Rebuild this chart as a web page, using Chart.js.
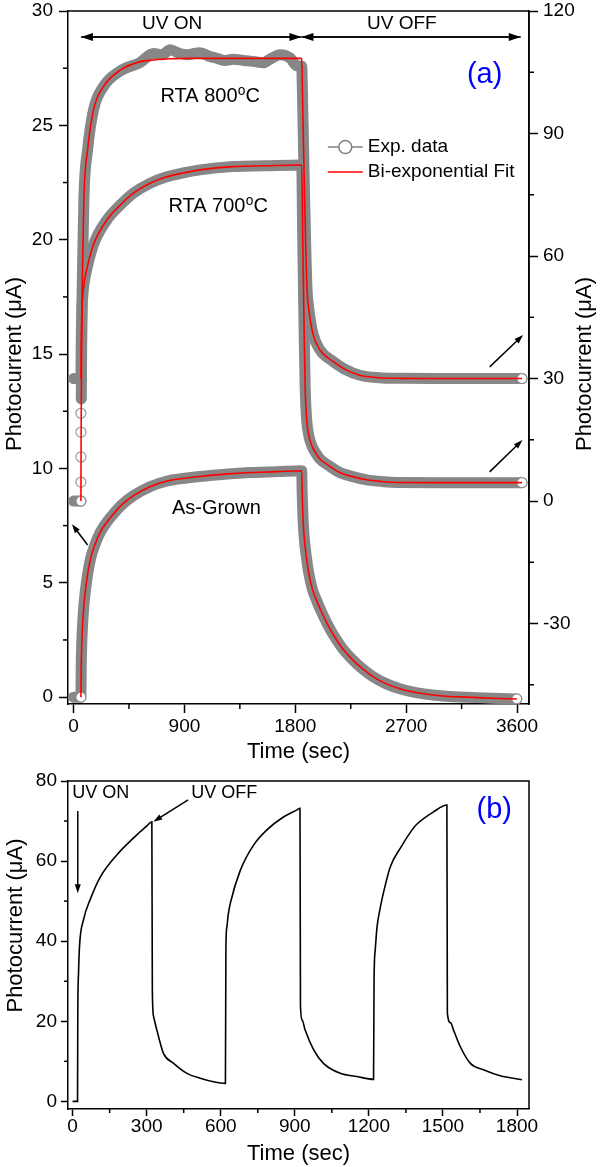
<!DOCTYPE html>
<html>
<head>
<meta charset="utf-8">
<script src="https://cdn.jsdelivr.net/npm/chart.js@4.4.1/dist/chart.umd.min.js"></script>
<style>
  body { margin: 0; background: #fff; }
  canvas { display: block; }
</style>
</head>
<body>
<canvas id="chartA" width="600" height="770"></canvas>
<canvas id="chartB" width="600" height="397"></canvas>
<script>
// ---- panel (a): rise / decay, time in sec ----
var grownT   = [0, 30, 60, 62, 66, 72, 81, 95, 115, 140, 176, 216, 270, 322, 400, 484, 620, 760, 1027, 1250,
                1433, 1650, 1852, 1856, 1862, 1872, 1888, 1910, 1940, 1975, 2015, 2060, 2106, 2180, 2268, 2350, 2430, 2540, 2649, 2780,
                2916, 3050, 3192, 3400, 3598];
var grownExp = [0, 0, 0, 1.2, 2.2, 3.0, 3.8, 4.6, 5.4, 6.1, 6.7, 7.2, 7.65, 8.0, 8.45, 8.8, 9.2, 9.45, 9.65, 9.76,
                9.82, 9.86, 9.9, 8.9, 7.9, 7.0, 6.2, 5.4, 4.7, 4.2, 3.7, 3.2, 2.75, 2.15, 1.62, 1.22, 0.9, 0.58, 0.37, 0.2,
                0.09, 0.03, 0.0, -0.05, -0.08];
var grownFit = [null, null, 0, 1.2, 2.2, 3.0, 3.8, 4.6, 5.4, 6.1, 6.7, 7.2, 7.65, 8.0, 8.45, 8.8, 9.2, 9.45, 9.65, 9.76,
                9.82, 9.86, 9.9, 8.9, 7.9, 7.0, 6.2, 5.4, 4.7, 4.2, 3.7, 3.2, 2.75, 2.15, 1.62, 1.22, 0.9, 0.58, 0.37, 0.2,
                0.09, 0.03, 0.0, -0.05, -0.08];

var rta700T   = [0, 30, 60, 61, 63, 66, 70, 76, 84, 114, 162, 270, 380, 486, 620, 757, 900, 1027, 1295, 1550,
                 1852, 1860, 1870, 1880, 1892, 1910, 1935, 1965, 2000, 2080, 2160, 2250, 2380, 2500, 2650, 3000, 3640];
var rta700Exp = [0, 0, 0, null, 25, 38, 47, 50.5, 53, 57.6, 62.8, 68.8, 72.5, 75.4, 77.8, 79.4, 80.4, 81.1, 81.9, 82.1,
                 82.3, 65, 45, 28, 20, 16, 13.5, 11.8, 10.3, 8.5, 7.0, 6.1, 5.2, 4.8, 4.55, 4.5, 4.5];
var rta700Fit = [null, null, 0, 12, 25, 38, 47, 50.5, 53, 57.6, 62.8, 68.8, 72.5, 75.4, 77.8, 79.4, 80.4, 81.1, 81.9, 82.1,
                 82.3, 65, 45, 28, 20, 16, 13.5, 11.8, 10.3, 8.5, 7.0, 6.1, 5.2, 4.8, 4.55, 4.5, 4.5];
var rta700RiseT = [60, 60, 60, 60];
var rta700RiseI = [4.65, 10.8, 16.9, 21.5];

var rta800T   = [0, 30, 60, 62, 66, 72, 84, 114, 162, 243, 379, 541, 648, 720, 784, 860, 922, 1027, 1100, 1165,
                 1230, 1297, 1380, 1474, 1539, 1600, 1677, 1758, 1814, 1852, 1858, 1866, 1875, 1885, 1895, 1910, 1943, 2000, 2106, 2200,
                 2324, 2480, 2649, 3000, 3640];
var rta800Exp = [30, 30, 30, 38, 45, 55, 74, 86, 95.8, 101.5, 105.3, 107.4, 109.6, 109.3, 110.5, 109.6, 109.3, 109.8, 108.9, 108.4,
                 107.9, 108.2, 107.9, 107.6, 107.3, 108.3, 109.3, 108.5, 106.6, 106.5, 100, 88, 75, 62, 52, 47, 41, 37, 34.2, 32.3,
                 30.8, 30.2, 30.05, 30, 30];
var rta800Fit = [null, null, 30, 38, 45, 55, 74, 86, 95.8, 101.5, 105.5, 107.6, 108.0, 108.2, 108.3, 108.35, 108.4, 108.4, 108.4, 108.4,
                 108.4, 108.4, 108.4, 108.4, 108.4, 108.4, 108.4, 108.4, 108.4, 108.4, 100, 88, 75, 62, 52, 47, 41, 37, 34.2, 32.3,
                 30.8, 30.2, 30.05, 30, 30];

var timeTicksA  = [0, 900, 1800, 2700, 3600];
var timeMinorA  = [450, 1350, 2250, 3150];
var leftTicksA  = [0, 5, 10, 15, 20, 25, 30];
var leftMinorA  = [2.5, 7.5, 12.5, 17.5, 22.5, 27.5];
var rightTicksA = [-30, 0, 30, 60, 90, 120];
var rightMinorA = [-45, -15, 15, 45, 75, 105];

// ---- panel (b): repeated UV on/off cycles ----
var cycleT = [0, 20, 21, 24, 28, 44, 72, 112, 180, 247, 301, 321, 323, 328, 348, 368, 409, 463, 517, 571,
              619, 621, 625, 630, 639, 680, 733, 787, 854, 909, 921, 923, 930, 942, 976, 1016, 1084, 1152, 1219, 1221,
              1226, 1233, 1245, 1255, 1287, 1327, 1375, 1394, 1462, 1516, 1518, 1531, 1543, 1570, 1611, 1664, 1732, 1820];
var cycleI = [0, 0, 21, 32, 38.7, 45.3, 50.5, 56.0, 61.6, 65.8, 68.8, 69.8, 27.8, 21.2, 16.2, 12.0, 9.5, 7.0, 5.8, 4.9,
              4.5, 38.7, 43.6, 46.5, 49.5, 57.8, 64.0, 67.8, 71.0, 72.8, 73.2, 23.7, 20.3, 17.8, 12.9, 9.5, 7.0, 6.2, 5.5, 30,
              38, 43.5, 48, 51, 58.6, 63.2, 67.8, 69.2, 72.3, 74.0, 22, 19.6, 17.8, 13.7, 9.5, 7.9, 6.4, 5.4];

var timeTicksB = [0, 300, 600, 900, 1200, 1500, 1800];
var timeMinorB = [150, 450, 750, 1050, 1350, 1650];
var yTicksB    = [0, 20, 40, 60, 80];
var yMinorB    = [10, 30, 50, 70];

var FONT = '"Liberation Sans", Arial, "DejaVu Sans", sans-serif';
Chart.defaults.font.family = FONT;
Chart.defaults.color = '#000';

function pts(ts, vs) {
  return ts.map(function (t, i) { return { x: t, y: vs[i] }; });
}
function setTicks(arr) {
  return function (scale) { scale.ticks = arr.map(function (v) { return { value: v }; }); };
}
function fixWidth(w) {
  return function (s) { s.width = w; s.paddingTop = 0; s.paddingBottom = 0; };
}
function fixHeight(h) {
  return function (s) { s.height = h; s.paddingLeft = 0; s.paddingRight = 0; };
}
function endCircles(c) {
  var last = c.dataset.data.length - 1;
  return (c.dataIndex === 2 || c.dataIndex === last) ? 5 : 0;
}

function arrow(ctx, x0, y0, x1, y1, len, half) {
  var a = Math.atan2(y1 - y0, x1 - x0);
  ctx.beginPath();
  ctx.moveTo(x0, y0);
  ctx.lineTo(x1 - len * 0.6 * Math.cos(a), y1 - len * 0.6 * Math.sin(a));
  ctx.stroke();
  ctx.beginPath();
  ctx.moveTo(x1, y1);
  ctx.lineTo(x1 - len * Math.cos(a) + half * Math.sin(a), y1 - len * Math.sin(a) - half * Math.cos(a));
  ctx.lineTo(x1 - len * Math.cos(a) - half * Math.sin(a), y1 - len * Math.sin(a) + half * Math.cos(a));
  ctx.closePath();
  ctx.fill();
}

// frame lines + short minor ticks
var frame = {
  id: 'frame',
  afterDraw: function (chart, args, opts) {
    var ctx = chart.ctx, a = chart.chartArea;
    ctx.save();
    ctx.strokeStyle = '#000';
    ctx.lineWidth = 1.5;
    ctx.beginPath();
    ctx.moveTo(a.left, a.top);
    ctx.lineTo(a.right, a.top);
    ctx.lineTo(a.right, a.bottom);
    ctx.stroke();
    (opts.minor || []).forEach(function (m) {
      var s = chart.scales[m.axis];
      m.values.forEach(function (v) {
        var p = s.getPixelForValue(v);
        ctx.beginPath();
        if (s.position === 'bottom') { ctx.moveTo(p, a.bottom); ctx.lineTo(p, a.bottom + m.len); }
        else if (s.position === 'left') { ctx.moveTo(a.left - m.len, p); ctx.lineTo(a.left, p); }
        else { ctx.moveTo(a.right, p); ctx.lineTo(a.right + m.len, p); }
        ctx.stroke();
      });
    });
    ctx.restore();
  }
};

// labels, arrows, legend
var notes = {
  id: 'notes',
  afterDraw: function (chart, args, opts) {
    var ctx = chart.ctx, sx = chart.scales.x, sy = chart.scales.y;
    var X = function (v) { return sx.getPixelForValue(v); };
    var Y = function (v) { return sy.getPixelForValue(v); };
    ctx.save();
    ctx.lineWidth = 1.5;
    ctx.strokeStyle = '#000';
    ctx.fillStyle = '#000';
    (opts.arrows || []).forEach(function (r) {
      arrow(ctx, X(r.x0), Y(r.y0), X(r.x1), Y(r.y1), r.len, r.half);
      if (r.both) arrow(ctx, X(r.x1), Y(r.y1), X(r.x0), Y(r.y0), r.len, r.half);
    });
    if (opts.legend) {
      var g = opts.legend;
      var lx0 = X(g.x0), lx1 = X(g.x1), ly0 = Y(g.y0), ly1 = Y(g.y1);
      ctx.strokeStyle = '#808080';
      ctx.beginPath(); ctx.moveTo(lx0, ly0); ctx.lineTo(lx1, ly0); ctx.stroke();
      ctx.fillStyle = '#fff';
      ctx.beginPath(); ctx.arc((lx0 + lx1) / 2, ly0, 6.5, 0, Math.PI * 2); ctx.fill(); ctx.stroke();
      ctx.strokeStyle = '#ff0000';
      ctx.beginPath(); ctx.moveTo(lx0, ly1); ctx.lineTo(lx1, ly1); ctx.stroke();
      ctx.fillStyle = '#000';
      ctx.font = '19px ' + FONT;
      ctx.textAlign = 'left';
      ctx.textBaseline = 'middle';
      ctx.fillText('Exp. data', lx1 + 5, ly0);
      ctx.fillText('Bi-exponential Fit', lx1 + 5, ly1);
    }
    (opts.texts || []).forEach(function (t) {
      ctx.font = (t.size || 19) + 'px ' + FONT;
      ctx.fillStyle = t.color || '#000';
      ctx.textAlign = t.align || 'center';
      ctx.textBaseline = 'middle';
      ctx.fillText(t.text, X(t.x), Y(t.y));
    });
    (opts.titles || []).forEach(function (t) {
      ctx.save();
      ctx.translate(t.px, t.py);
      ctx.rotate(-Math.PI / 2);
      ctx.font = '22px ' + FONT;
      ctx.fillStyle = '#000';
      ctx.textAlign = 'center';
      ctx.textBaseline = 'middle';
      ctx.fillText(t.text, 0, 0);
      ctx.restore();
    });
    ctx.restore();
  }
};

function tickFont() { return { size: 19, lineHeight: 1 }; }
function asText(v) { return String(v); }

new Chart(document.getElementById('chartA'), {
  type: 'line',
  data: {
    datasets: [
      { label: 'As-Grown fit', data: pts(grownT, grownFit), yAxisID: 'y', order: 0 },
      { label: 'RTA 700 fit', data: pts(rta700T, rta700Fit), yAxisID: 'y1', order: 0 },
      { label: 'RTA 800 fit', data: pts(rta800T, rta800Fit), yAxisID: 'y1', order: 0 },
      { label: 'RTA 700 rise', data: pts(rta700RiseT, rta700RiseI), yAxisID: 'y1', order: 1,
        showLine: false, pointRadius: 5, pointBackgroundColor: '#fff', pointBorderColor: '#9a9a9a', pointBorderWidth: 1.2 },
      { label: 'As-Grown', data: pts(grownT, grownExp), yAxisID: 'y', order: 2, exp: true },
      { label: 'RTA 700', data: pts(rta700T, rta700Exp), yAxisID: 'y1', order: 2, exp: true },
      { label: 'RTA 800', data: pts(rta800T, rta800Exp), yAxisID: 'y1', order: 2, exp: true }
    ].map(function (d) {
      if (d.exp) {
        d.borderColor = '#878787';
        d.borderWidth = 11;
        d.borderJoinStyle = 'round';
        d.borderCapStyle = 'round';
        d.pointRadius = endCircles;
        d.pointBackgroundColor = '#fff';
        d.pointBorderColor = '#8c8c8c';
        d.pointBorderWidth = 1.2;
      } else if (d.showLine !== false) {
        d.borderColor = '#ff0000';
        d.borderWidth = 1.6;
        d.pointRadius = 0;
      }
      d.cubicInterpolationMode = 'monotone';
      return d;
    })
  },
  options: {
    responsive: false,
    animation: false,
    events: [],
    layout: { padding: { top: 11 } },
    plugins: {
      legend: { display: false },
      tooltip: { enabled: false },
      frame: { minor: [
        { axis: 'x', values: timeMinorA, len: 5 },
        { axis: 'y', values: leftMinorA, len: 5 },
        { axis: 'y1', values: rightMinorA, len: 5 }
      ] },
      notes: {
        arrows: [
          { x0: 60, y0: 28.86, x1: 1850, y1: 28.86, len: 12, half: 4, both: true },
          { x0: 1850, y0: 28.86, x1: 3630, y1: 28.86, len: 12, half: 4, both: true },
          { x0: 114, y0: 6.65, x1: -13, y1: 7.56, len: 9, half: 3 },
          { x0: 3378, y0: 14.44, x1: 3649, y1: 15.83, len: 9, half: 3 },
          { x0: 3378, y0: 9.85, x1: 3644, y1: 11.24, len: 9, half: 3 }
        ],
        legend: { x0: 2064, x1: 2348, y0: 24.05, y1: 22.96 },
        texts: [
          { text: 'UV ON', x: 800, y: 29.45 },
          { text: 'UV OFF', x: 2665, y: 29.45 },
          { text: '(a)', x: 3337, y: 27.2, size: 29, color: '#0000ff' },
          { text: 'RTA 800⁰C', x: 1110, y: 26.28, size: 20 },
          { text: 'RTA 700⁰C', x: 1174, y: 21.47, size: 20 },
          { text: 'As-Grown', x: 1159, y: 8.26, size: 20 }
        ],
        titles: [
          { text: 'Photocurrent (μA)', px: 15, py: 364 },
          { text: 'Photocurrent (μA)', px: 585, py: 364 }
        ]
      }
    },
    scales: {
      x: {
        type: 'linear', position: 'bottom', min: -45, max: 3697,
        afterFit: fixHeight(66), afterBuildTicks: setTicks(timeTicksA),
        ticks: { autoSkip: false, maxRotation: 0, padding: 4.5, font: tickFont(), callback: asText },
        grid: { drawOnChartArea: false, tickLength: 9, tickWidth: 1.5, tickColor: '#000' },
        border: { color: '#000', width: 1.5 },
        title: { display: true, text: 'Time (sec)', font: { size: 22 }, padding: { top: 0, bottom: 4.8 } }
      },
      y: {
        type: 'linear', position: 'left', min: -0.3, max: 30,
        afterFit: fixWidth(68), afterBuildTicks: setTicks(leftTicksA),
        ticks: { autoSkip: false, padding: 6, font: tickFont(), callback: asText },
        grid: { drawOnChartArea: false, tickLength: 9, tickWidth: 1.5, tickColor: '#000' },
        border: { color: '#000', width: 1.5 }
      },
      y1: {
        type: 'linear', position: 'right', min: -49.7, max: 120,
        afterFit: fixWidth(71), afterBuildTicks: setTicks(rightTicksA),
        ticks: { autoSkip: false, padding: 5, font: tickFont(), callback: asText },
        grid: { drawOnChartArea: false, tickLength: 9, tickWidth: 1.5, tickColor: '#000' },
        border: { color: '#000', width: 1.5 }
      }
    }
  },
  plugins: [frame, notes]
});

new Chart(document.getElementById('chartB'), {
  type: 'line',
  data: {
    datasets: [{
      label: 'Photocurrent',
      data: pts(cycleT, cycleI),
      borderColor: '#000',
      borderWidth: 1.6,
      pointRadius: 0,
      cubicInterpolationMode: 'monotone'
    }]
  },
  options: {
    responsive: false,
    animation: false,
    events: [],
    layout: { padding: { top: 11, right: 71 } },
    plugins: {
      legend: { display: false },
      tooltip: { enabled: false },
      frame: { minor: [
        { axis: 'x', values: timeMinorB, len: 4 },
        { axis: 'y', values: yMinorB, len: 4 }
      ] },
      notes: {
        arrows: [
          { x0: 21, y0: 72.5, x1: 21, y1: 52.0, len: 9, half: 3 },
          { x0: 468, y0: 75.3, x1: 327, y1: 69.8, len: 9, half: 3 }
        ],
        texts: [
          { text: 'UV ON', x: -1, y: 77.0, align: 'left', size: 18 },
          { text: 'UV OFF', x: 481, y: 77.0, align: 'left', size: 18 },
          { text: '(b)', x: 1708, y: 72.8, size: 29, color: '#0000ff' }
        ],
        titles: [
          { text: 'Photocurrent (μA)', px: 16, py: 155.5 }
        ]
      }
    },
    scales: {
      x: {
        type: 'linear', position: 'bottom', min: -18.6, max: 1848.6,
        afterFit: fixHeight(58), afterBuildTicks: setTicks(timeTicksB),
        ticks: { autoSkip: false, maxRotation: 0, padding: 1, font: tickFont(), callback: asText },
        grid: { drawOnChartArea: false, tickLength: 7, tickWidth: 1.5, tickColor: '#000' },
        border: { color: '#000', width: 1.5 },
        title: { display: true, text: 'Time (sec)', font: { size: 22 }, padding: { top: 0, bottom: 0 } }
      },
      y: {
        type: 'linear', position: 'left', min: -1.9, max: 80,
        afterFit: fixWidth(68), afterBuildTicks: setTicks(yTicksB),
        ticks: { autoSkip: false, padding: 4, font: tickFont(), callback: asText },
        grid: { drawOnChartArea: false, tickLength: 7, tickWidth: 1.5, tickColor: '#000' },
        border: { color: '#000', width: 1.5 }
      }
    }
  },
  plugins: [frame, notes]
});
</script>
</body>
</html>
